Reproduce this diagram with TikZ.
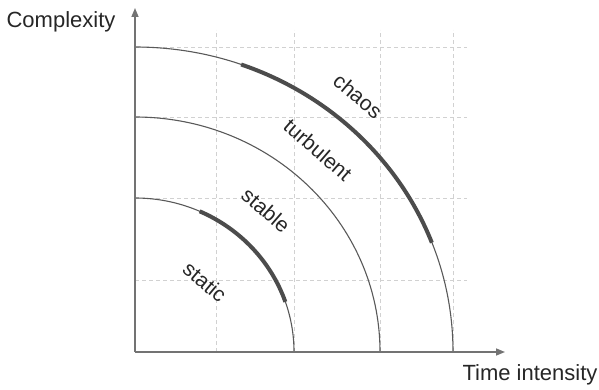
\documentclass[tikz,border=0pt]{standalone}
\usepackage{fontspec}
\setmainfont{Liberation Sans}
\usetikzlibrary{arrows.meta}
\begin{document}
\begin{tikzpicture}[x=1pt,y=1pt,
  gridline/.style={draw=black!18, dash pattern=on 4pt off 3pt, line width=0.8pt},
  axisline/.style={draw=black!55, line width=1.5pt, -{Triangle[length=9pt,width=7pt]}},
  arcline/.style={draw=black!65, line width=1.1pt},
  hiline/.style={draw=black!70, line width=4pt},
  lbl/.style={font=\fontsize{21}{21}\selectfont, text=black!85, inner sep=0pt},
  axlbl/.style={font=\fontsize{22}{22}\selectfont, text=black!85, inner sep=0pt}]
\useasboundingbox (0,0) rectangle (599,389);
\begin{scope}[shift={(135,37)}]
  \coordinate (O) at (0,0);
  \coordinate (ytip) at (0,344);
  \coordinate (xtip) at (370,0);
  % grid
  \foreach \x in {81,159,245,318} \draw[gridline] (\x,0) -- (\x,322);
  \foreach \y in {72,154,235,305} \draw[gridline] (0,\y) -- (332,\y);
  % arcs
  \draw[arcline] (0,154) arc[start angle=90,end angle=0,x radius=159,y radius=154];
  \draw[arcline] (0,235) arc[start angle=90,end angle=0,x radius=245,y radius=235];
  \draw[arcline] (0,305) arc[start angle=90,end angle=0,x radius=318,y radius=305];
  % highlighted parts
  \draw[hiline] (66:159 and 154) arc[start angle=66,end angle=19,x radius=159,y radius=154];
  \draw[hiline] (70.5:318 and 305) arc[start angle=70.5,end angle=21,x radius=318,y radius=305];
  % axes
  \draw[axisline] (O) -- (ytip);
  \draw[axisline] (O) -- (xtip);
  % labels
  \node[lbl, rotate=-40] (static) at (70,70) {static};
  \node[lbl, rotate=-41] (stable) at (131,142) {stable};
  \node[lbl, rotate=-41] (turbulent) at (183,202) {turbulent};
  \node[lbl, rotate=-40] (chaos) at (223,256) {chaos};
\end{scope}
\node[axlbl] (ylabel) at (61,367) {Complexity};
\node[axlbl] (xlabel) at (530,14) {Time intensity};
\end{tikzpicture}
\end{document}
